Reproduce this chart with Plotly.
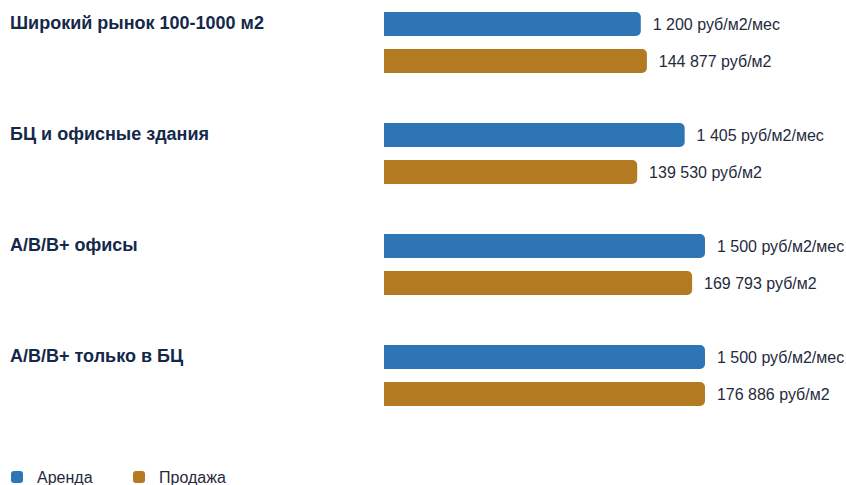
import plotly.graph_objects as go

categories = ["Широкий рынок 100-1000 м2", "БЦ и офисные здания", "А/В/В+ офисы", "А/В/В+ только в БЦ"]
rent = [1200, 1405, 1500, 1500]
sale = [144877, 139530, 169793, 176886]
rent_name = "Аренда"
sale_name = "Продажа"
rent_unit = "руб/м2/мес"
sale_unit = "руб/м2"

W, H = 846, 485
ML = 384
PW = W - ML
MAXPX = 321.0
PITCH = 111.0
first_center = 42.5
plot_h = 420
bar_w = 24 / PITCH
half = 18.5 / PITCH

BLUE = "#2e75b6"
ORANGE = "#b47a22"
TXT = "#1f2b3d"
NAVY = "#14284a"

fig = go.Figure()
fig.add_trace(go.Bar(
    y=categories, x=rent, orientation="h", name=rent_name, xaxis="x", yaxis="y",
    marker=dict(color=BLUE, cornerradius=5, line=dict(width=0)),
    width=bar_w, offset=-half - bar_w / 2,
    texttemplate="\u00a0\u00a0%{x:,} " + rent_unit, textposition="outside",
    textfont=dict(size=16, color=TXT, family="Liberation Sans, Arial"),
    cliponaxis=False, constraintext="none", hoverinfo="skip",
))
fig.add_trace(go.Bar(
    y=categories, x=sale, orientation="h", name=sale_name, xaxis="x2", yaxis="y",
    marker=dict(color=ORANGE, cornerradius=5, line=dict(width=0)),
    width=bar_w, offset=half - bar_w / 2,
    texttemplate="\u00a0\u00a0%{x:,} " + sale_unit, textposition="outside",
    textfont=dict(size=16, color=TXT, family="Liberation Sans, Arial"),
    cliponaxis=False, constraintext="none", hoverinfo="skip",
))

for c in categories:
    fig.add_annotation(
        x=0, xref="paper", xanchor="left", xshift=8 - ML,
        y=c, yref="y", yanchor="middle", yshift=20,
        text="<b>" + c + "</b>", showarrow=False,
        font=dict(size=18, color=NAVY, family="Liberation Sans, Arial"),
    )

r0 = -first_center / PITCH
r1 = (plot_h - first_center) / PITCH

fig.update_layout(
    width=W, height=H,
    margin=dict(l=ML, r=0, t=0, b=H - plot_h, autoexpand=False),
    paper_bgcolor="white", plot_bgcolor="white",
    separators=", ",
    barmode="overlay",
    showlegend=True,
    xaxis=dict(range=[0, max(rent) * PW / MAXPX], visible=False, fixedrange=True),
    xaxis2=dict(range=[0, max(sale) * PW / MAXPX], visible=False, overlaying="x", fixedrange=True),
    yaxis=dict(range=[r1, r0], visible=False, type="category", fixedrange=True),
    legend=dict(
        orientation="h", x=(-3 - ML) / PW, xanchor="left", xref="paper",
        y=(H - 477) / H, yref="container", yanchor="middle",
        font=dict(size=16, color=TXT, family="Liberation Sans, Arial"),
        entrywidth=77, bgcolor="rgba(0,0,0,0)",
    ),
    font=dict(family="Liberation Sans, Arial"),
)

fig.write_html(
    "out.html",
    config={"displayModeBar": False},
    post_script="document.body.style.margin='0';document.body.style.overflow='hidden';",
)
